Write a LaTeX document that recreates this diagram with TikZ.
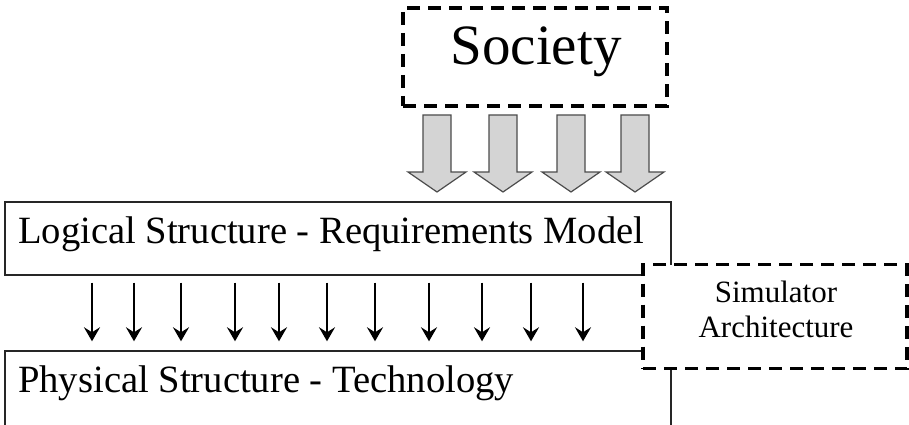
\documentclass[tikz,border=0pt]{standalone}
\usepackage{fontspec}
\setmainfont{Liberation Serif}
\usetikzlibrary{arrows.meta}
\begin{document}
\begin{tikzpicture}[x=1pt,y=-1pt,
  layerbox/.style={draw=black!85,line width=1.4pt,fill=none,inner sep=0pt},
  groupbox/.style={draw=black,line width=3.4pt,dash pattern=on 13pt off 8pt,fill=white,inner sep=0pt},
  flowarrow/.style={draw=black!70,line width=1.2pt,fill=black!17,line join=miter},
  smallarrow/.style={line width=2.2pt,-{Stealth[length=14pt,width=16pt,inset=5pt]}},
  biglabel/.style={font=\fontsize{57}{60}\selectfont},
  layerlabel/.style={font=\fontsize{38.6}{42}\selectfont,anchor=base west,inner sep=0pt},
  grouplabel/.style={font=\fontsize{31}{35}\selectfont,align=center,inner sep=0pt}
]
\clip (0,0) rectangle (909,425);
\fill[white] (0,0) rectangle (909,425);

% Society
\node[groupbox,minimum width=264pt,minimum height=98pt] (society) at (535,57) {};
\node[biglabel,anchor=base,inner sep=0pt] (societytext) at (536,65) {Society};

% wide arrows from society to the requirements layer
\foreach \c in {437,503,571,635}{
  \draw[flowarrow] (\c-14,115) -- (\c+14,115) -- (\c+14,172) -- (\c+29,172)
    -- (\c,192) -- (\c-29,172) -- (\c-14,172) -- cycle;
}

% layers
\node[layerbox,minimum width=666pt,minimum height=73pt] (logical) at (338,238.5) {};
\node[layerlabel] (logicaltext) at (18,243) {Logical Structure - Requirements Model};

\node[layerbox,minimum width=666pt,minimum height=100pt] (physical) at (338,401) {};
\node[layerlabel] (physicaltext) at (18,392) {Physical Structure - Technology};

% mapping arrows between the layers
\foreach \x in {92,134,181,235,279,327,375,429,482,531,583}{
  \path (\x,0) coordinate (t);
  \draw[smallarrow,shorten <=7pt,shorten >=9pt] (logical.south -| t) -- (physical.north -| t);
}

% simulator architecture
\node[groupbox,minimum width=264pt,minimum height=104pt] (simulator) at (775,316.5) {};
\node[grouplabel] (simtext) at (776,309) {Simulator\\Architecture};
\end{tikzpicture}
\end{document}
